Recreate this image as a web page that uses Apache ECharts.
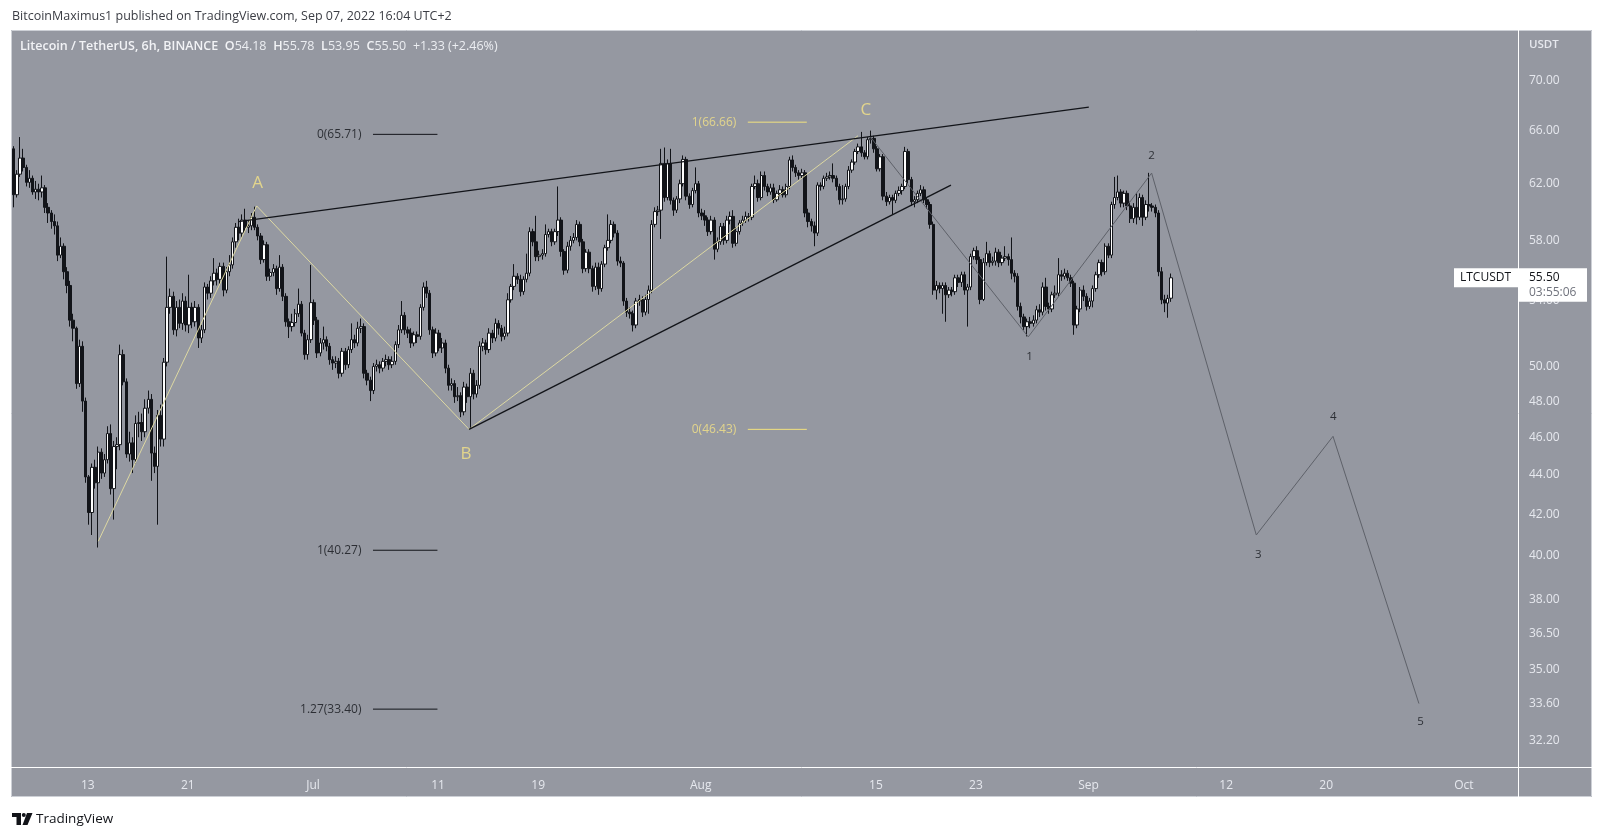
<!DOCTYPE html>
<html>
<head>
<meta charset="utf-8">
<script src="https://cdn.jsdelivr.net/npm/echarts/dist/echarts.min.js"></script>
<style>
html,body{margin:0;padding:0;background:#ffffff;}
#c{width:1603px;height:837px;}
</style>
</head>
<body>
<div id="c"></div>
<script>
// ---------------- DATA ----------------
const FONT = "'Open Sans', 'Liberation Sans', sans-serif";
const SIX_HOURS = 6 * 3600 * 1000;
const firstCandleTime = '2022-06-07 02:00';   // UTC+2 chart time, 6h candles
// candles: [open, close, low, high]
const juneCandles = [
[64.6,61.2,60.3,64.8],[61.2,62.7,61.0,63.0],[62.7,63.9,62.5,65.5],[63.9,63.2,62.9,64.6],
[63.2,62.1,61.8,63.4],[62.1,62.4,61.7,63.0],[62.4,61.4,61.2,62.6],[61.4,61.6,60.9,62.2],
[61.6,61.4,60.8,62.0],[61.4,61.7,61.0,62.6],[61.7,60.3,59.9,61.9],[60.3,59.9,59.2,60.6],
[59.9,59.3,58.8,60.1],[59.3,59.0,58.4,59.8],[59.0,57.0,56.6,59.3],[57.0,57.6,56.8,58.2],
[57.6,55.9,55.4,57.8],[55.9,55.0,54.5,56.2],[55.0,52.8,52.4,55.3],[52.8,52.3,51.5,53.2],
[52.3,49.0,48.7,52.4],[49.0,51.2,48.8,51.6],[51.2,48.0,47.4,51.5],[48.0,43.9,43.6,48.2],
[43.9,42.1,41.5,44.0],[42.1,44.4,41.0,44.6],[44.4,43.6,43.3,44.8],[43.6,45.2,40.4,45.5],
[45.2,44.1,43.8,45.4],[44.1,44.8,43.9,45.1],[44.8,46.2,44.6,46.6],[46.2,43.3,43.0,46.7],
[43.3,45.5,41.75,45.8],[45.5,45.6,44.3,46.0],[45.6,50.7,45.3,51.3],[50.7,49.1,48.9,51.0],
[49.1,45.1,44.9,49.3],[45.1,45.7,44.7,46.3],[45.7,44.8,44.1,46.0],[44.8,46.75,44.6,47.2],
[46.75,46.8,46.0,47.4],[46.8,46.3,45.8,47.3],[46.3,47.6,46.0,48.1],[47.6,48.1,47.3,48.6],
[48.1,45.15,43.7,48.4],[45.15,44.45,44.1,45.5],[44.45,47.2,41.5,47.5],[47.2,45.9,45.5,47.8],
[45.9,50.25,45.5,50.5],[50.25,53.6,50.0,56.9],[53.6,54.3,53.2,54.8],[54.3,52.2,51.9,54.6],
[52.2,53.6,51.8,54.0],[53.6,52.6,52.3,54.1],[52.6,54.0,52.2,54.5],[54.0,52.5,52.1,54.3],
[52.5,53.6,52.0,55.7],[53.6,52.7,52.3,53.9],[52.7,53.6,52.4,54.0],[53.6,51.7,51.1,53.8],
[51.7,52.2,51.4,52.5],[52.2,54.9,52.0,55.2],[54.9,54.5,54.1,55.1],[54.5,55.3,54.2,55.6],
[55.3,55.8,55.0,56.8],[55.8,55.4,55.0,56.1],[55.4,56.25,55.1,56.5],[56.25,54.7,54.3,56.5],
[54.7,55.9,54.5,56.2],[55.9,56.35,55.6,57.0],[56.35,57.9,56.1,58.2],[57.9,58.9,57.5,59.2],
[58.9,58.5,58.0,59.5],[58.5,59.4,58.2,59.8],[59.4,58.9,58.6,60.2],[58.9,59.0,58.5,59.4],
[59.0,59.6,58.7,59.9],[59.6,58.9,58.7,60.35],[58.9,58.3,58.0,59.1],[58.3,56.7,56.4,58.5],
[56.7,57.7,56.5,58.0],[57.7,55.6,55.3,57.9],[55.6,55.85,55.3,56.1],[55.85,56.1,55.6,56.4],
[56.1,54.8,54.4,56.3],[54.8,56.2,54.6,57.0],[56.2,54.3,54.0,56.4],[54.3,52.7,52.4,54.5],
[52.7,52.4,51.7,52.9],[52.4,52.65,52.1,53.2],[52.65,53.2,52.4,53.5],[53.2,53.8,53.0,54.8],
[53.8,52.0,51.8,54.0],[52.0,50.7,50.4,52.2],[50.7,51.6,50.4,51.9],[51.6,53.9,51.4,56.35]
];
const julyCandles = [
[53.9,52.8,52.5,54.1],[52.8,50.8,50.5,53.0],[50.8,51.4,50.6,51.7],[51.4,51.6,51.0,52.4],
[51.6,51.2,50.9,51.8],[51.2,50.4,50.1,51.4],[50.4,50.2,49.8,50.6],[50.2,50.3,49.9,50.6],
[50.3,49.6,49.3,50.5],[49.6,50.9,49.4,51.1],[50.9,50.1,49.8,51.1],[50.1,51.0,49.9,51.2],
[51.0,51.6,50.8,52.6],[51.6,51.4,51.1,51.9],[51.4,52.3,51.2,52.7],[52.3,52.4,52.0,52.9],
[52.4,49.6,49.3,52.6],[49.6,49.2,48.9,49.8],[49.2,48.6,48.0,49.4],[48.6,50.0,48.4,50.2],
[50.0,50.1,49.7,50.4],[50.1,49.9,49.6,50.3],[49.9,50.3,49.7,50.5],[50.3,50.4,50.0,50.7],
[50.4,50.1,49.8,50.6],[50.1,50.3,49.9,50.6],[50.3,51.3,50.1,51.5],[51.3,52.2,51.1,52.5],
[52.2,53.1,52.0,54.0],[53.1,52.2,51.9,53.3],[52.2,52.0,51.7,52.4],[52.0,51.4,51.1,52.3],
[51.4,51.9,51.2,52.1],[51.9,51.8,51.4,52.1],[51.8,53.6,51.6,53.8],[53.6,54.9,53.4,55.2],
[54.9,54.5,54.2,55.3],[54.5,52.2,51.9,54.7],[52.2,50.8,50.5,52.4],[50.8,52.0,50.6,52.3],
[52.0,51.1,50.9,52.2],[51.1,51.4,50.8,51.7],[51.4,49.9,49.6,51.6],[49.9,48.9,48.6,50.1],
[48.9,49.0,48.6,49.3],[49.0,48.25,47.9,49.2],[48.25,48.3,48.0,48.8],[48.3,47.4,47.1,48.5],
[47.4,48.8,47.2,49.1],[48.8,48.25,47.9,49.0],[48.25,49.6,46.45,49.9],[49.6,48.4,48.1,49.8],
[48.4,48.9,48.2,49.2],[48.9,51.2,48.7,51.5],[51.2,51.4,50.9,51.7],[51.4,51.0,50.7,51.6],
[51.0,52.0,50.8,52.3],[52.0,51.7,51.4,52.2],[51.7,52.6,51.5,52.9],[52.6,52.3,51.9,52.8],
[52.3,51.8,51.5,52.5],[51.8,52.0,51.6,52.4],[52.0,54.08,51.8,54.5],[54.08,54.94,53.9,55.1],
[54.94,55.6,54.7,56.4],[55.6,55.4,55.1,55.8],[55.4,54.6,54.3,55.7],[54.6,55.4,54.4,55.6],
[55.4,55.8,55.2,57.1],[55.8,58.6,55.6,58.9],[58.6,57.9,57.6,58.8],[57.9,56.9,56.6,59.7],
[56.9,57.0,56.6,57.3],[57.0,57.1,56.7,57.4],[57.1,58.4,56.9,59.1],[58.4,58.6,58.2,58.8],
[58.6,57.9,57.6,58.8],[57.9,58.6,57.7,58.8],[58.6,59.4,58.3,61.8],[59.4,57.25,56.9,59.6],
[57.25,56.0,55.7,57.4],[56.0,57.6,55.8,57.9],[57.6,58.0,57.3,58.3],[58.0,58.2,57.8,58.5],
[58.2,59.1,58.0,59.4],[59.1,57.9,57.6,59.3],[57.9,56.1,55.8,58.1],[56.1,57.2,55.9,57.4],
[57.2,56.1,55.8,57.4],[56.1,54.94,54.6,56.3],[54.94,56.2,54.7,56.5],[56.2,54.8,54.4,56.5],
[54.8,56.4,54.6,56.6],[56.4,57.5,56.2,57.7],[57.5,58.0,57.3,59.8],[58.0,59.1,57.8,59.4],
[59.1,58.5,58.2,59.3],[58.5,56.6,56.3,58.7],[56.6,56.47,56.2,56.9],[56.47,54.0,53.7,56.6],
[54.0,53.3,53.0,54.2],[53.3,53.2,52.9,53.6],[53.2,52.5,52.1,53.4],[52.5,54.0,52.3,54.2],
[54.0,54.1,53.7,54.4],[54.1,53.3,53.0,54.3],[53.3,54.1,53.1,54.4],[54.1,54.7,53.2,55.0],
[54.7,59.1,54.5,59.4],[59.1,60.0,58.9,60.3],[60.0,60.1,59.7,60.4],[60.1,63.5,58.1,64.6],
[63.5,61.0,60.7,64.7],[61.0,63.5,60.8,63.8],[63.5,60.8,60.5,64.6],[60.8,60.1,59.7,61.0],
[60.1,60.9,59.9,61.1],[60.9,62.0,60.6,62.3],[62.0,63.8,61.8,64.1],[63.8,61.1,60.8,64.0],
[61.1,60.5,60.2,61.3],[60.5,61.5,60.3,61.7],[61.5,62.0,61.3,63.2],[62.0,59.9,59.6,62.2]
];
const augustCandles = [
[59.9,59.7,59.4,60.2],[59.7,59.4,59.0,60.1],[59.4,58.6,58.3,59.6],[58.6,59.4,58.4,59.7],
[59.4,57.4,56.7,59.6],[57.4,57.9,57.2,58.2],[57.9,58.96,57.7,59.2],[58.96,58.0,57.7,59.2],
[58.0,59.4,57.8,59.7],[59.4,59.66,59.1,60.0],[59.66,57.8,57.5,60.1],[57.8,58.6,57.6,58.9],
[58.6,59.2,58.4,59.4],[59.2,59.4,59.0,59.7],[59.4,59.66,59.2,60.0],[59.66,59.6,59.3,59.9],
[59.6,61.8,59.4,62.0],[61.8,62.0,61.6,62.6],[62.0,61.0,60.7,62.3],[61.0,62.6,60.8,62.9],
[62.6,61.8,61.5,62.9],[61.8,61.4,61.1,62.0],[61.4,61.7,61.2,62.0],[61.7,60.84,60.6,62.0],
[60.84,61.3,60.7,61.5],[61.3,61.56,61.1,61.9],[61.56,61.2,61.0,61.8],[61.2,61.8,61.0,62.0],
[61.8,63.76,61.6,64.0],[63.76,63.2,62.9,64.1],[63.2,62.8,62.5,63.4],[62.8,62.6,62.3,63.0],
[62.6,62.8,62.4,63.1],[62.8,59.9,59.6,63.0],[59.9,59.3,58.9,60.2],[59.3,59.0,58.6,59.5],
[59.0,58.5,57.6,59.3],[58.5,61.9,58.3,62.1],[61.9,61.8,61.5,62.1],[61.8,62.4,61.6,62.6],
[62.4,62.5,62.2,62.8],[62.5,62.6,62.3,62.9],[62.6,62.4,62.1,63.5],[62.4,61.8,61.5,62.6],
[61.8,60.84,60.5,62.0],[60.84,60.9,60.5,61.9],[60.9,61.8,60.7,62.0],[61.8,63.0,61.6,63.3],
[63.0,63.6,62.8,63.8],[63.6,64.4,63.4,64.6],[64.4,64.75,64.2,65.0],[64.75,64.3,64.0,65.9],
[64.3,64.0,63.8,64.5],[64.0,65.3,63.8,65.5],[65.3,65.4,65.0,66.0],[65.4,64.6,64.3,65.6],
[64.6,63.1,62.9,64.8],[63.1,64.0,62.9,64.2],[64.0,61.1,60.8,64.2],[61.1,60.7,60.4,61.4],
[60.7,61.0,60.5,61.2],[61.0,60.8,59.8,61.2],[60.8,61.3,60.6,61.5],[61.3,61.5,61.1,61.8],
[61.5,61.8,61.2,62.0],[61.8,64.4,61.6,64.75],[64.4,62.3,62.0,64.6],[62.3,60.7,60.4,62.5],
[60.7,60.84,60.3,61.1],[60.84,61.3,60.6,61.5],[61.3,61.56,61.1,61.9],[61.56,60.84,60.6,61.8],
[60.84,60.5,60.2,61.0],[60.5,59.1,58.8,60.7],[59.1,54.7,54.4,59.3],[54.7,55.0,54.1,55.3],
[55.0,54.8,54.5,55.2],[54.8,55.0,53.2,55.2],[55.0,54.4,52.7,55.2],[54.4,54.7,54.2,54.9],
[54.7,54.6,54.3,54.9],[54.6,55.5,54.4,55.7],[55.5,55.2,54.9,55.7],[55.2,55.7,54.9,55.9],
[55.7,54.7,54.4,55.9],[54.7,54.9,52.4,55.1],[54.9,56.9,54.7,57.1],[56.9,57.3,56.7,57.5],
[57.3,56.7,56.4,57.6],[56.7,54.1,53.8,56.9],[54.1,56.5,54.0,56.8],[56.5,57.1,56.3,57.9],
[57.1,56.5,56.2,57.3],[56.5,56.6,56.3,56.9],[56.6,57.2,56.3,57.5],[57.2,56.5,56.2,57.4],
[56.5,56.8,56.3,57.0],[56.8,56.9,56.6,57.6],[56.9,56.7,56.3,57.1],[56.7,55.8,55.4,58.2],
[55.8,55.6,55.2,56.0],[55.6,53.66,53.4,55.8],[53.66,53.0,52.6,53.9],[53.0,52.4,52.2,53.2],
[52.4,52.7,51.8,52.9],[52.7,52.6,52.3,53.0],[52.6,52.8,52.4,53.1],[52.8,53.45,52.6,53.7],
[53.45,53.3,53.0,53.8],[53.3,54.9,53.1,55.2],[54.9,53.66,53.4,55.5],[53.66,53.5,53.2,53.9],
[53.5,54.4,53.3,54.6],[54.4,54.5,54.2,55.0],[54.5,55.7,54.3,56.8],[55.7,55.6,55.3,56.0],
[55.6,55.8,55.4,56.1],[55.8,55.5,55.3,56.0],[55.5,55.15,54.9,55.7],[55.15,52.5,51.9,55.3],
[52.5,53.5,52.3,53.7],[53.5,54.7,53.3,54.9],[54.7,54.3,54.0,55.0],[54.3,53.66,53.4,54.5]
];
const septemberCandles = [
[53.66,54.0,53.5,54.2],[54.0,54.8,53.6,55.0],[54.8,55.7,54.6,55.9],[55.7,56.5,55.5,56.7],
[56.5,55.9,55.6,56.7],[55.9,57.6,55.7,57.8],[57.6,57.0,56.8,57.8],[57.0,60.5,56.8,60.7],
[60.5,61.0,60.2,62.5],[61.0,61.4,60.8,62.6],[61.4,60.6,60.3,61.6],[60.6,61.3,60.3,61.5],
[61.3,60.4,60.1,61.5],[60.4,59.5,59.2,60.7],[59.5,60.3,59.2,60.6],[60.3,59.6,59.1,61.3],
[59.6,61.0,59.4,61.3],[61.0,59.6,59.0,61.2],[59.6,60.5,59.4,60.8],[60.5,60.4,60.0,62.8],
[60.4,60.3,60.0,60.6],[60.3,59.9,59.6,60.5],[59.9,55.9,55.6,60.1],[55.9,54.08,53.8,56.2],
[54.08,53.87,53.3,54.4],[53.87,54.17,52.95,54.4],[54.18,55.50,53.95,55.78]
];

// axis ticks
const priceTicks = [70, 66, 62, 58, 54, 50, 48, 46, 44, 42, 40, 38, 36.5, 35, 33.6, 32.2];
const xTickDates = ['2022-06-13','2022-06-21','2022-07-01','2022-07-11','2022-07-19','2022-08-01',
                    '2022-08-15','2022-08-23','2022-09-01','2022-09-12','2022-09-20','2022-10-01'];
const xTickLabels = ['13','21','Jul','11','19','Aug','15','23','Sep','12','20','Oct'];

// drawings
const wedgeUpper = [['2022-06-25 00:45', 59.3], ['2022-09-01 00:30', 67.85]];
const wedgeLower = [['2022-07-13 11:20', 46.43], ['2022-08-21 00:00', 61.9]];
const abcPath = [['2022-06-13 20:10', 40.7], ['2022-06-26 12:00', 60.4], ['2022-07-13 11:20', 46.43], ['2022-08-13 13:40', 65.6]];
const impulsePath = [['2022-08-14 12:40', 65.55], ['2022-08-27 04:20', 51.77], ['2022-09-06 01:00', 62.78],
                     ['2022-09-14 09:50', 41.0], ['2022-09-20 13:00', 46.05], ['2022-09-27 09:50', 33.62]];
const abcLabels = [['A', '2022-06-26 13:40', 62.07], ['B', '2022-07-13 05:30', 45.1], ['C', '2022-08-14 04:50', 67.6]];
const waveLabels = [['1', '2022-08-27 06:40', 50.58], ['2', '2022-09-06 01:00', 64.1], ['3', '2022-09-14 13:30', 40.08],
                    ['4', '2022-09-20 13:30', 47.1], ['5', '2022-09-27 13:10', 32.92]];
const blackFibLevels = [['0', 65.71], ['1', 40.27], ['1.27', 33.40]];
const blackFibSpan = ['2022-07-05 19:10', '2022-07-10 22:50'];
const yellowFibLevels = [['1', 66.66], ['0', 46.43]];
const yellowFibSpan = ['2022-08-04 18:15', '2022-08-09 11:30'];

// ---------------- HELPERS ----------------
function t(s) {
  const parts = s.split(' ');
  const d = parts[0].split('-').map(Number);
  const hm = (parts[1] || '00:00').split(':').map(Number);
  return Date.UTC(d[0], d[1] - 1, d[2], hm[0], hm[1]);
}
const allCandles = juneCandles.concat(julyCandles, augustCandles, septemberCandles);
const t0 = t(firstCandleTime);
const candleData = allCandles.map((c, i) => [t0 + i * SIX_HOURS, c[0], c[1], c[2], c[3]]);
const last = allCandles[allCandles.length - 1];
const prevClose = allCandles[allCandles.length - 2][1];
const change = last[1] - prevClose;
const xTickTimes = xTickDates.map(d => t(d));
const toPts = arr => arr.map(p => [t(p[0]), p[1]]);

const X_MIN = t('2022-06-06 20:40');
const X_MAX = t('2022-10-05 07:55');
const Y_MIN = 31.2, Y_MAX = 74.3;

const INK = '#121419';
const GRAY_BG = '#9598a1';
const AXIS_TXT = '#e6e8ee';
const YELLOW_TXT = '#f5e487';
const YELLOW_LINE = '#ddd8a2';

// ---------------- CHART ----------------
const chart = echarts.init(document.getElementById('c'), null, {width: 1603, height: 837});

const lineSeries = (pts, color, width, z) => ({
  type: 'line', xAxisIndex: 0, yAxisIndex: 0, data: pts, symbol: 'none', silent: true, z: z || 5,
  lineStyle: {color: color, width: width}, animation: false
});
const textSeries = (items, labelOpt, z) => ({
  type: 'scatter', xAxisIndex: 0, yAxisIndex: 0, symbolSize: 1, silent: true, z: z || 6,
  itemStyle: {color: 'rgba(0,0,0,0)'},
  data: items,
  label: Object.assign({show: true, formatter: p => p.name, fontFamily: FONT}, labelOpt),
  animation: false
});

const series = [
  {
    type: 'candlestick', xAxisIndex: 0, yAxisIndex: 0, data: candleData, encode: {x: 0, y: [1, 2, 3, 4]},
    barWidth: 2.9, silent: true, z: 3,
    itemStyle: {color: '#ffffff', color0: INK, borderColor: INK, borderColor0: INK, borderWidth: 1}
  },
  lineSeries(toPts(abcPath), YELLOW_LINE, 1, 4),
  lineSeries(toPts(impulsePath), '#5e6169', 1, 4),
  lineSeries(toPts(wedgeUpper), INK, 1.3, 5),
  lineSeries(toPts(wedgeLower), INK, 1.3, 5)
];
blackFibLevels.forEach(l => series.push(lineSeries([[t(blackFibSpan[0]), l[1]], [t(blackFibSpan[1]), l[1]]], INK, 1, 5)));
yellowFibLevels.forEach(l => series.push(lineSeries([[t(yellowFibSpan[0]), l[1]], [t(yellowFibSpan[1]), l[1]]], '#f2e27e', 1, 5)));
series.push(textSeries(blackFibLevels.map(l => ({value: [t(blackFibSpan[0]), l[1]], name: l[0] + '(' + l[1].toFixed(2) + ')'})),
  {position: 'left', distance: 11, color: INK, fontSize: 12}));
series.push(textSeries(yellowFibLevels.map(l => ({value: [t(yellowFibSpan[0]), l[1]], name: l[0] + '(' + l[1].toFixed(2) + ')'})),
  {position: 'left', distance: 11, color: YELLOW_TXT, fontSize: 12}));
series.push(textSeries(abcLabels.map(a => ({value: [t(a[1]), a[2]], name: a[0]})),
  {position: 'inside', color: YELLOW_TXT, fontSize: 17}));
series.push(textSeries(waveLabels.map(a => ({value: [t(a[1]), a[2]], name: a[0]})),
  {position: 'inside', color: INK, fontSize: 11.5}));

const PANEL = {l: 11, t: 30, r: 1592, b: 797};
const GRID = {l: 11, t: 30, r: 1518, b: 767};

function staticGraphics() {
  return [
    {id: 'wTop', type: 'rect', shape: {x: 0, y: 0, width: 1603, height: PANEL.t}, style: {fill: '#ffffff'}, silent: true},
    {id: 'wBot', type: 'rect', shape: {x: 0, y: PANEL.b, width: 1603, height: 837 - PANEL.b}, style: {fill: '#ffffff'}, silent: true},
    {id: 'wLeft', type: 'rect', shape: {x: 0, y: 0, width: PANEL.l, height: 837}, style: {fill: '#ffffff'}, silent: true},
    {id: 'wRight', type: 'rect', shape: {x: PANEL.r, y: 0, width: 1603 - PANEL.r, height: 837}, style: {fill: '#ffffff'}, silent: true},
    {id: 'border', type: 'rect', shape: {x: PANEL.l + 0.5, y: PANEL.t + 0.5, width: PANEL.r - PANEL.l - 1, height: PANEL.b - PANEL.t - 1},
      style: {fill: null, stroke: '#cdd0d6', lineWidth: 1}, silent: true},
    {id: 'sepV', type: 'line', shape: {x1: GRID.r + 0.5, y1: PANEL.t, x2: GRID.r + 0.5, y2: PANEL.b}, style: {stroke: '#ffffff', lineWidth: 1}, silent: true},
    {id: 'sepH', type: 'line', shape: {x1: PANEL.l, y1: GRID.b + 0.5, x2: PANEL.r, y2: GRID.b + 0.5}, style: {stroke: '#ffffff', lineWidth: 1}, silent: true},
    {id: 'pub', type: 'text', x: 12, y: 16, silent: true,
      style: {text: 'BitcoinMaximus1 published on TradingView.com, Sep 07, 2022 16:04 UTC+2', fill: '#3b3d44',
        fontSize: 12.5, fontFamily: FONT, verticalAlign: 'middle'}},
    {id: 'hdr', type: 'text', x: 20, y: 46.5, silent: true,
      style: {
        text: '{n|Litecoin / TetherUS, 6h, BINANCE}  {k|O}{v|' + last[0].toFixed(2) + '}  {k|H}{v|' + last[3].toFixed(2) +
              '}  {k|L}{v|' + last[2].toFixed(2) + '}  {k|C}{v|' + last[1].toFixed(2) + '}  {v|' +
              (change >= 0 ? '+' : '') + change.toFixed(2) + ' (' + (change >= 0 ? '+' : '') + (change / prevClose * 100).toFixed(2) + '%)}',
        verticalAlign: 'middle',
        rich: {
          n: {fill: '#f2f3f6', fontSize: 12.5, fontFamily: FONT, fontWeight: 600},
          k: {fill: '#f2f3f6', fontSize: 12.5, fontFamily: FONT, fontWeight: 600},
          v: {fill: '#eceef2', fontSize: 12.5, fontFamily: FONT}
        }
      }},
    {id: 'usdt', type: 'text', x: 1529, y: 45, silent: true,
      style: {text: 'USDT', fill: AXIS_TXT, fontSize: 11.5, fontWeight: 600, fontFamily: FONT, verticalAlign: 'middle'}},
    {id: 'lg1', type: 'polygon', silent: true, shape: {points: [[12, 813], [21, 813], [21, 825], [16.5, 825], [16.5, 817], [12, 817]]}, style: {fill: INK}},
    {id: 'lg2', type: 'circle', silent: true, shape: {cx: 23.8, cy: 815, r: 2}, style: {fill: INK}},
    {id: 'lg3', type: 'polygon', silent: true, shape: {points: [[27, 813], [32.5, 813], [27.5, 825], [22.5, 825]]}, style: {fill: INK}},
    {id: 'lgt', type: 'text', x: 36, y: 819.5, silent: true,
      style: {text: 'TradingView', fill: INK, fontSize: 13.5, fontFamily: FONT, verticalAlign: 'middle'}}
  ];
}

const option = {
  animation: false,
  backgroundColor: GRAY_BG,
  textStyle: {fontFamily: FONT},
  grid: {left: GRID.l, top: GRID.t, right: 1603 - GRID.r, bottom: 837 - GRID.b, containLabel: false},
  xAxis: [
    {type: 'time', min: X_MIN, max: X_MAX,
      axisLine: {show: false}, axisTick: {show: false}, splitLine: {show: false}, axisLabel: {show: false}},
    {type: 'value', min: X_MIN, max: X_MAX, position: 'bottom',
      axisLine: {show: false}, axisTick: {show: false}, splitLine: {show: false},
      axisLabel: {
        customValues: xTickTimes,
        formatter: v => { const k = xTickTimes.indexOf(v); return k >= 0 ? xTickLabels[k] : ''; },
        color: AXIS_TXT, fontSize: 12, margin: 13, fontFamily: FONT
      }}
  ],
  yAxis: [
    {type: 'log', logBase: 10, min: Y_MIN, max: Y_MAX, position: 'right',
      axisLine: {show: false}, axisTick: {show: false}, splitLine: {show: false}, axisLabel: {show: false}},
    {type: 'value', min: Math.log(Y_MIN), max: Math.log(Y_MAX), position: 'right',
      axisLine: {show: false}, axisTick: {show: false}, splitLine: {show: false},
      axisLabel: {customValues: priceTicks.map(v => Math.log(v)), formatter: v => Math.exp(v).toFixed(2),
        color: AXIS_TXT, fontSize: 12, margin: 11, fontFamily: FONT}}
  ],
  series: series,
  graphic: {elements: staticGraphics()}
};
chart.setOption(option);

const py = chart.convertToPixel({yAxisIndex: 0}, last[1]);
const tag = [
  {id: 'tagBox', type: 'rect', z: 100, silent: true, shape: {x: GRID.r + 1, y: py - 9.5, width: 68, height: 33.5}, style: {fill: '#ffffff'}},
  {id: 'symBox', type: 'rect', z: 100, silent: true, shape: {x: 1454, y: py - 9.5, width: GRID.r - 1454 + 0.5, height: 19}, style: {fill: '#ffffff'}},
  {id: 'symTxt', type: 'text', z: 101, silent: true, x: 1460, y: py, style: {text: 'LTCUSDT', fill: INK, fontSize: 12, fontFamily: FONT, verticalAlign: 'middle'}},
  {id: 'tagTxt', type: 'text', z: 101, silent: true, x: 1529, y: py, style: {text: last[1].toFixed(2), fill: INK, fontSize: 12, fontFamily: FONT, verticalAlign: 'middle'}},
  {id: 'tagCnt', type: 'text', z: 101, silent: true, x: 1529, y: py + 15, style: {text: '03:55:06', fill: '#70737d', fontSize: 12, fontFamily: FONT, verticalAlign: 'middle'}}
];
chart.setOption({graphic: {elements: staticGraphics().concat(tag)}});
</script>
</body>
</html>
